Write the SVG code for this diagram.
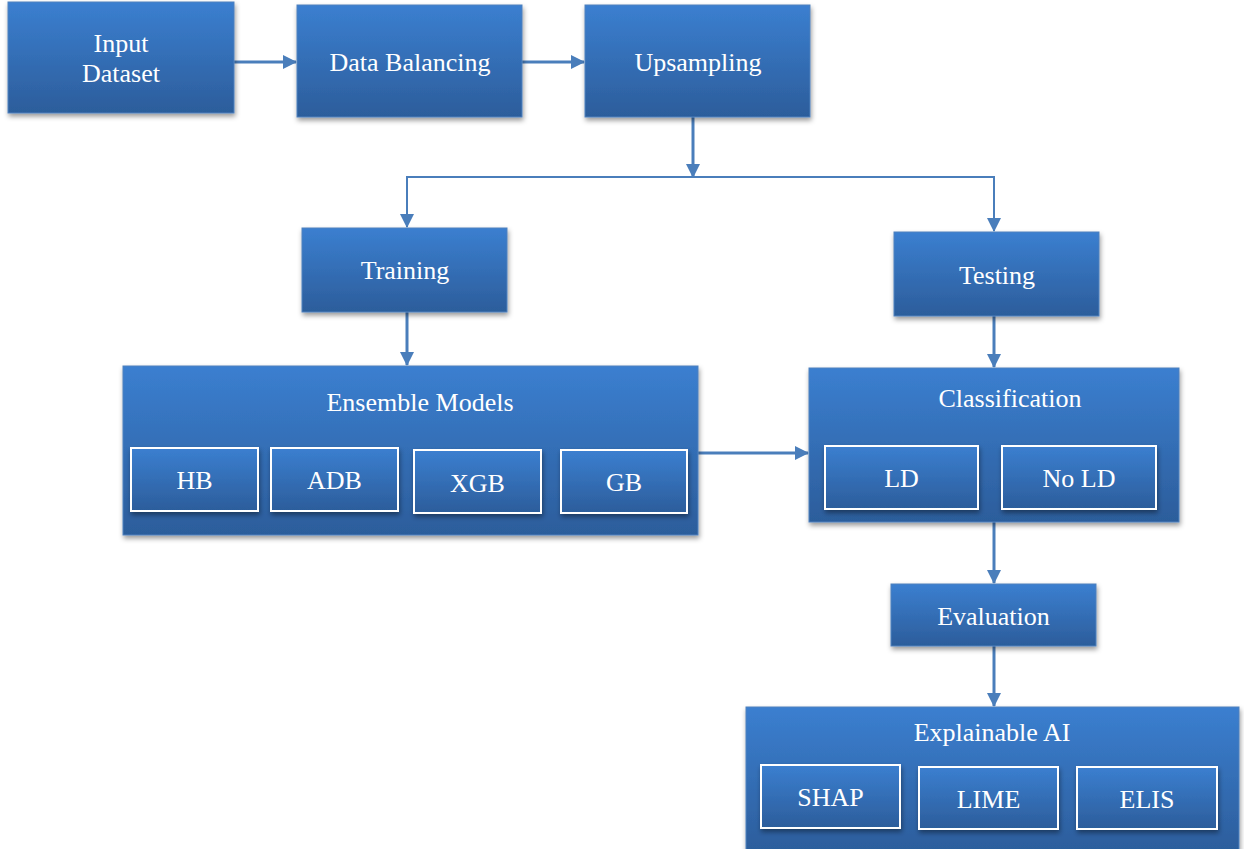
<svg xmlns="http://www.w3.org/2000/svg" width="1244" height="849" viewBox="0 0 1244 849">
<defs>
<linearGradient id="g" x1="0" y1="0" x2="0" y2="1">
<stop offset="0" stop-color="#3b7fd0"/>
<stop offset="1" stop-color="#2c5d9b"/>
</linearGradient>
<filter id="sh" x="-10%" y="-10%" width="120%" height="130%">
<feDropShadow dx="1" dy="3" stdDeviation="2.5" flood-color="#000" flood-opacity="0.4"/>
</filter>
<marker id="ah" markerWidth="14" markerHeight="14" viewBox="0 0 14 14" refX="13" refY="7" orient="auto" markerUnits="userSpaceOnUse">
<path d="M0,0 L14,7 L0,14 Z" fill="#4a7ebb"/>
</marker>
<style>
.box{fill:url(#g);stroke:#4f81bd;stroke-width:1;filter:url(#sh)}
.sub{fill:url(#g);stroke:#ffffff;stroke-width:2;filter:url(#sh)}
.t{font-family:Liberation Serif,serif;font-size:26px;fill:#ffffff;text-anchor:middle}
.c{fill:none;stroke:#4a7ebb;stroke-width:3}
.c2{fill:none;stroke:#4a7ebb;stroke-width:2}
</style>
</defs>
<g id="connectors">
<line class="c" x1="234" y1="62" x2="296" y2="62" marker-end="url(#ah)"/>
<line class="c" x1="522" y1="62" x2="584" y2="62" marker-end="url(#ah)"/>
<line class="c" x1="693" y1="117" x2="693" y2="177" marker-end="url(#ah)"/>
<polyline class="c2" points="693,177 407,177 407,227" marker-end="url(#ah)"/>
<polyline class="c2" points="693,177 994,177 994,231" marker-end="url(#ah)"/>
<line class="c" x1="407" y1="312" x2="407" y2="365" marker-end="url(#ah)"/>
<line class="c" x1="994" y1="316" x2="994" y2="367" marker-end="url(#ah)"/>
<line class="c" x1="698" y1="453" x2="808" y2="453" marker-end="url(#ah)"/>
<line class="c" x1="994" y1="522" x2="994" y2="583" marker-end="url(#ah)"/>
<line class="c" x1="994" y1="646" x2="994" y2="706" marker-end="url(#ah)"/>
</g>
<g id="input">
<rect class="box" x="8" y="2" width="226" height="111"/>
<text class="t" font-family="Liberation Serif" x="121" y="52">Input</text>
<text class="t" font-family="Liberation Serif" x="121" y="82">Dataset</text>
</g>
<g id="balancing">
<rect class="box" x="297" y="5" width="225" height="112"/>
<text class="t" font-family="Liberation Serif" x="410" y="71">Data Balancing</text>
</g>
<g id="upsampling">
<rect class="box" x="585" y="5" width="225" height="112"/>
<text class="t" font-family="Liberation Serif" x="698" y="71">Upsampling</text>
</g>
<g id="training">
<rect class="box" x="302" y="228" width="205" height="84"/>
<text class="t" font-family="Liberation Serif" x="405" y="279">Training</text>
</g>
<g id="testing">
<rect class="box" x="894" y="232" width="205" height="84"/>
<text class="t" font-family="Liberation Serif" x="997" y="284">Testing</text>
</g>
<g id="ensemble">
<rect class="box" x="123" y="366" width="575" height="169"/>
<text class="t" font-family="Liberation Serif" x="420" y="411">Ensemble Models</text>
<rect class="sub" x="131" y="448" width="127" height="63"/>
<text class="t" font-family="Liberation Serif" x="194.5" y="489">HB</text>
<rect class="sub" x="271" y="448" width="127" height="63"/>
<text class="t" font-family="Liberation Serif" x="334.5" y="489">ADB</text>
<rect class="sub" x="414" y="450" width="127" height="63"/>
<text class="t" font-family="Liberation Serif" x="477.5" y="492">XGB</text>
<rect class="sub" x="561" y="450" width="126" height="63"/>
<text class="t" font-family="Liberation Serif" x="624" y="491">GB</text>
</g>
<g id="classification">
<rect class="box" x="809" y="368" width="370" height="154"/>
<text class="t" font-family="Liberation Serif" x="1010" y="407">Classification</text>
<rect class="sub" x="825" y="446" width="153" height="63"/>
<text class="t" font-family="Liberation Serif" x="901.5" y="487">LD</text>
<rect class="sub" x="1002" y="446" width="154" height="63"/>
<text class="t" font-family="Liberation Serif" x="1079" y="487">No LD</text>
</g>
<g id="evaluation">
<rect class="box" x="891" y="584" width="205" height="62"/>
<text class="t" font-family="Liberation Serif" x="993.5" y="625">Evaluation</text>
</g>
<g id="xai">
<rect class="box" x="746" y="707" width="493" height="145"/>
<text class="t" font-family="Liberation Serif" x="992" y="741">Explainable AI</text>
<rect class="sub" x="761" y="765" width="139" height="63"/>
<text class="t" font-family="Liberation Serif" x="830.5" y="806">SHAP</text>
<rect class="sub" x="919" y="767" width="139" height="62"/>
<text class="t" font-family="Liberation Serif" x="988.5" y="808">LIME</text>
<rect class="sub" x="1077" y="767" width="140" height="62"/>
<text class="t" font-family="Liberation Serif" x="1147" y="808">ELIS</text>
</g>
</svg>
